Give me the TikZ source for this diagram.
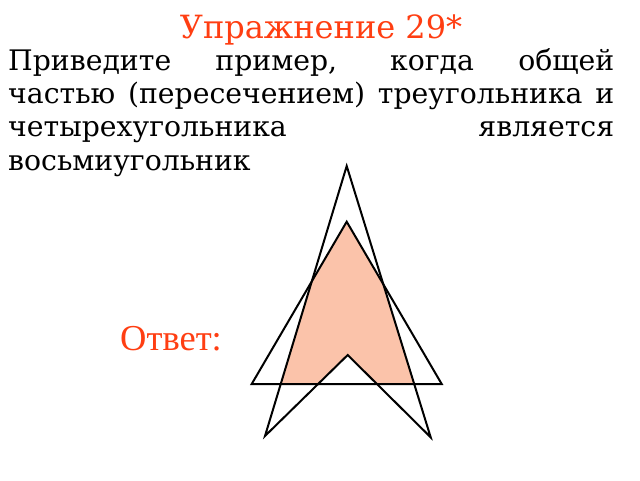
\documentclass[tikz,border=0pt]{standalone}
\usepackage{fontspec}
\setmainfont{DejaVu Serif}
\newfontfamily\answerfont{Liberation Serif}
\definecolor{titlered}{RGB}{255,62,18}
\definecolor{fillpink}{RGB}{251,195,170}
\begin{document}
\begin{tikzpicture}[x=1pt,y=-1pt,
  outline/.style={draw=black,line width=2pt,line join=miter},
  titletext/.style={text=titlered,font=\fontsize{32}{38}\selectfont,inner sep=0pt},
  bodytext/.style={font=\fontsize{28.3}{33.4}\selectfont,inner sep=0pt,text width=606pt,align=justify},
  answertext/.style={text=titlered,font=\answerfont\fontsize{36.5}{40}\selectfont,inner sep=0pt}]
\useasboundingbox (0,0) rectangle (640,480);
\fill[white] (0,0) rectangle (640,480);
% triangle
\coordinate (TA) at (346.7,221.7);
\coordinate (TL) at (251.7,384);
\coordinate (TR) at (441.7,384);
% quadrilateral (arrow)
\coordinate (QA) at (346.7,166);
\coordinate (QL) at (265,436);
\coordinate (QN) at (347.7,355);
\coordinate (QR) at (430.7,437.3);
\begin{scope}
  \clip (TA) -- (TL) -- (TR) -- cycle;
  \fill[fillpink] (QA) -- (QL) -- (QN) -- (QR) -- cycle;
\end{scope}
\draw[outline] (TA) -- (TL) -- (TR) -- cycle;
\draw[outline] (QA) -- (QL) -- (QN) -- (QR) -- cycle;
\node[titletext,anchor=base] (title) at (321,38) {Упражнение 29*};
\node[bodytext,anchor=base west] (body) at (8,70) {Приведите пример, когда общей\linebreak частью (пересечением) треугольника и\linebreak четырехугольника является\linebreak восьмиугольник};
\node[answertext,anchor=base west] (answer) at (120,350) {Ответ:};
\end{tikzpicture}
\end{document}
